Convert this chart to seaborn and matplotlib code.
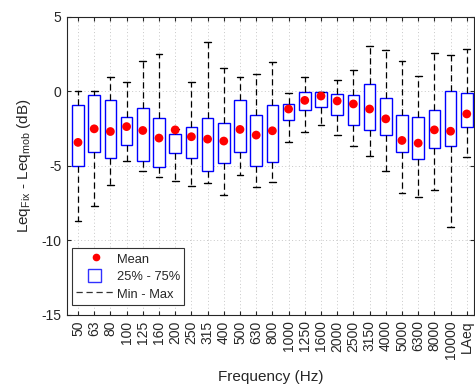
import matplotlib
matplotlib.use("Agg")
import matplotlib.pyplot as plt
from matplotlib.lines import Line2D
from matplotlib.patches import Patch, Rectangle
from matplotlib.legend_handler import HandlerPatch
import seaborn as sns
import pandas as pd

# Third-octave bands plus the overall A-weighted level
bands = ["50", "63", "80", "100", "125", "160", "200", "250", "315", "400",
         "500", "630", "800", "1000", "1250", "1600", "2000", "2500", "3150",
         "4000", "5000", "6300", "8000", "10000", "LAeq"]

# Level differences Leq_Fix - Leq_mob (dB) per band
mean_db = [-3.42, -2.51, -2.69, -2.36, -2.62, -3.13, -2.58, -3.04, -3.20, -3.33,
           -2.55, -2.93, -2.64, -1.18, -0.60, -0.31, -0.64, -0.84, -1.18,
           -1.84, -3.29, -3.47, -2.58, -2.67, -1.51]
q1_db = [-4.98, -4.09, -4.49, -3.62, -4.64, -5.05, -4.13, -4.44, -5.31, -4.82,
         -4.09, -4.98, -4.76, -1.91, -1.27, -1.07, -1.58, -2.22, -2.56,
         -2.93, -4.09, -4.53, -3.78, -3.67, -2.40]
q3_db = [-0.91, -0.22, -0.58, -1.73, -1.13, -1.78, -2.84, -2.38, -1.76, -2.09,
         -0.60, -1.60, -0.91, -0.84, -0.07, -0.04, -0.18, -0.24, 0.49,
         -0.42, -1.60, -1.69, -1.22, 0.00, -0.13]
min_db = [-8.69, -7.71, -6.27, -4.64, -5.33, -5.73, -6.00, -6.33, -6.16, -6.93,
          -5.64, -6.44, -6.09, -3.40, -2.73, -2.22, -2.93, -3.67, -4.33,
          -5.33, -6.84, -7.11, -6.60, -9.07, -4.38]
max_db = [0.00, 0.02, 1.00, 0.60, 2.02, 2.53, -2.55, 0.64, 3.31, 1.56,
          0.96, 1.16, 1.98, -0.11, 1.00, -0.04, 0.76, 1.47, 3.02,
          2.76, 2.02, 1.04, 2.58, 2.44, 2.84]

df = pd.DataFrame({"band": bands, "mean": mean_db})
df["pos"] = range(len(bands))

sns.set_style("ticks")
plt.rcParams["font.family"] = ["Liberation Sans", "DejaVu Sans"]
plt.rcParams["mathtext.default"] = "regular"
plt.rcParams["axes.unicode_minus"] = False

fig = plt.figure(figsize=(4.75, 3.85), dpi=100)
ax = fig.add_axes([0.141, 0.182, 0.857, 0.774])

stats = [dict(med=m, q1=a, q3=b, whislo=lo, whishi=hi, fliers=[])
         for m, a, b, lo, hi in zip(mean_db, q1_db, q3_db, min_db, max_db)]
ax.bxp(stats, positions=list(df["pos"]), widths=0.72, capwidths=0.42,
       showfliers=False, patch_artist=True,
       boxprops=dict(facecolor="white", edgecolor="#0000ff", linewidth=1.0),
       whiskerprops=dict(color="black", linestyle=(0, (5, 3)), linewidth=0.9),
       capprops=dict(color="black", linewidth=1.0),
       medianprops=dict(visible=False), manage_ticks=False, zorder=2)

sns.scatterplot(data=df, x="pos", y="mean", color="red", s=40,
                edgecolor="none", zorder=3, ax=ax, legend=False)

ax.set_xlim(-0.68, 24.45)
ax.set_ylim(-15, 5)
ax.set_xticks(list(df["pos"]))
ax.set_xticklabels(bands, rotation=90, fontsize=10)
ax.set_yticks([5, 0, -5, -10, -15])
ax.set_yticklabels(["5", "0", "-5", "-10", "-15"], fontsize=10)
ax.tick_params(direction="in", top=True, right=True, length=3, width=0.8,
               color="#262626", pad=4)
ax.grid(True, linestyle=(0, (1, 2.5)), color="#c8c8c8", linewidth=0.7)
ax.set_axisbelow(True)
for sp in ax.spines.values():
    sp.set_visible(True)
    sp.set_color("#262626")
    sp.set_linewidth(0.8)

ax.set_xlabel("Frequency (Hz)", fontsize=11, color="#262626", labelpad=8)
ax.set_ylabel(r"Leq$_{Fix}$ - Leq$_{mob}$ (dB)", fontsize=11, color="#262626",
              labelpad=6)


def square_patch(legend, orig_handle, xdescent, ydescent, width, height, fontsize):
    side = height
    return Rectangle((xdescent + (width - side) / 2 - 1, -ydescent), side, side)


handles = [
    Line2D([], [], marker="o", color="red", linestyle="none", markersize=4.5),
    Patch(facecolor="white", edgecolor="#3030ff", linewidth=1.0),
    Line2D([], [], color="#333333", linestyle=(0, (5, 3)), linewidth=0.9),
]
leg = ax.legend(handles, ["Mean", "25% - 75%", "Min - Max"], loc="lower left",
                bbox_to_anchor=(0.012, 0.035), fontsize=9.3, fancybox=False,
                framealpha=1, edgecolor="#333333", handlelength=3.1,
                handleheight=1.15, borderpad=0.3, labelspacing=0.28,
                handletextpad=0.1, borderaxespad=0.0,
                handler_map={Patch: HandlerPatch(patch_func=square_patch)})
leg.get_frame().set_linewidth(0.8)

fig.savefig("out.png", dpi=100)
